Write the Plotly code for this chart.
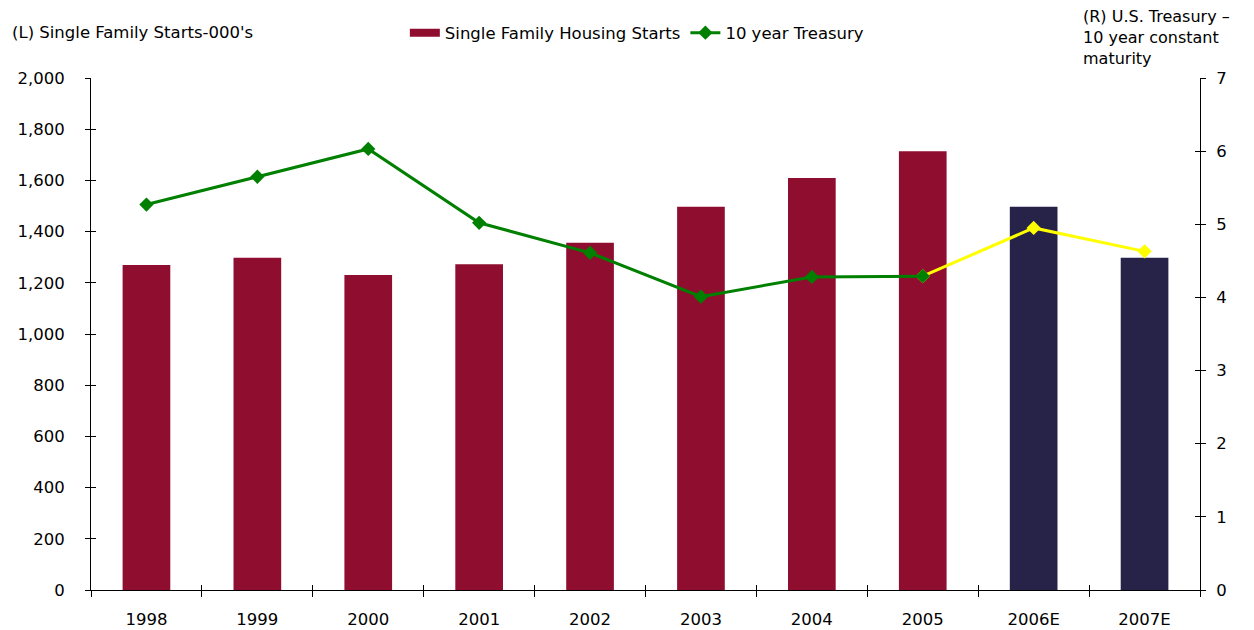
import plotly.graph_objects as go

years = ["1998", "1999", "2000", "2001", "2002", "2003", "2004", "2005", "2006E", "2007E"]
starts = [1270, 1298, 1230, 1272, 1356, 1497, 1609, 1714, 1497, 1298]
bar_colors = ["#8F0E30"] * 8 + ["#272248"] * 2
treasury_actual_years = years[:8]
treasury_actual = [5.27, 5.65, 6.03, 5.02, 4.61, 4.01, 4.28, 4.29]
treasury_est_years = years[7:]
treasury_est = [4.29, 4.95, 4.63]

font = "DejaVu Sans, Verdana, sans-serif"
fs = 16.5

fig = go.Figure()
fig.add_trace(go.Bar(
    x=years, y=starts, name="Single Family Housing Starts", showlegend=False,
    marker=dict(color=bar_colors, line=dict(width=0)), width=0.43,
    yaxis="y",
))
# legend-only entry to get the wide rectangular swatch
fig.add_trace(go.Scatter(
    x=[None], y=[None], mode="lines", name="Single Family Housing Starts",
    line=dict(color="#8F0E30", width=8), yaxis="y",
))
fig.add_trace(go.Scatter(
    x=treasury_est_years, y=treasury_est, mode="lines+markers", showlegend=False,
    line=dict(color="#FFFF00", width=3), marker=dict(symbol="diamond", size=11, color="#FFFF00"),
    yaxis="y2",
))
fig.add_trace(go.Scatter(
    x=treasury_actual_years, y=treasury_actual, mode="lines+markers", name="10 year Treasury",
    line=dict(color="#008000", width=3), marker=dict(symbol="diamond", size=11, color="#008000"),
    yaxis="y2",
))
# empty helper traces so the inner-tick overlay axes are drawn (ticks cross the axis lines)
fig.add_trace(go.Scatter(x=years, y=[None] * len(years), xaxis="x2", yaxis="y3",
                         showlegend=False, hoverinfo="skip", mode="lines"))
fig.add_trace(go.Scatter(x=years, y=[None] * len(years), xaxis="x2", yaxis="y4",
                         showlegend=False, hoverinfo="skip", mode="lines"))

common_inner = dict(ticks="inside", ticklen=5, tickcolor="black", showticklabels=False,
                    showline=False, showgrid=False, zeroline=False)

fig.update_layout(
    width=1254, height=630,
    margin=dict(l=83, r=62, t=70, b=48, autoexpand=False),
    paper_bgcolor="white", plot_bgcolor="white",
    font=dict(family=font, size=fs, color="black"),
    xaxis=dict(
        type="category", categoryarray=years, range=[-0.5, 9.5],
        showline=True, linecolor="black", linewidth=1,
        ticks="outside", ticklen=6, tickcolor="black", tickson="boundaries",
        showgrid=False, tickfont=dict(size=fs), zeroline=False,
        ticklabelstandoff=14,
    ),
    xaxis2=dict(type="category", categoryarray=years, range=[-0.5, 9.5], overlaying="x",
                anchor="y", side="bottom", tickson="boundaries", **common_inner),
    yaxis=dict(
        range=[0, 2000], dtick=200, tickformat=",", showline=True, linecolor="black",
        linewidth=1, ticks="outside", ticklen=5, tickcolor="black", showgrid=False,
        zeroline=False, tickfont=dict(size=fs), ticklabelstandoff=17,
    ),
    yaxis2=dict(
        range=[0, 7], dtick=1, overlaying="y", side="right", showline=True,
        linecolor="black", linewidth=1, ticks="outside", ticklen=5, tickcolor="black",
        showgrid=False, zeroline=False, tickfont=dict(size=fs), ticklabelstandoff=7,
    ),
    yaxis3=dict(range=[0, 2000], dtick=200, overlaying="y", side="left", anchor="x",
                **common_inner),
    yaxis4=dict(range=[0, 7], dtick=1, overlaying="y", side="right", anchor="x",
                **common_inner),
    legend=dict(
        orientation="h", x=0.283, y=1.088, xanchor="left", yanchor="middle",
        font=dict(size=fs), bgcolor="rgba(0,0,0,0)", traceorder="normal",
        itemwidth=30,
    ),
    annotations=[
        dict(text="(L) Single Family Starts-000's", xref="paper", yref="paper",
             x=-0.073, y=1.088, xanchor="left", yanchor="middle", showarrow=False,
             font=dict(size=fs)),
        dict(text="(R) U.S. Treasury –<br>10 year constant<br>maturity", xref="paper",
             yref="paper", x=0.8935, y=1.079, xanchor="left", yanchor="middle",
             showarrow=False, align="left", font=dict(size=16), borderpad=0),
    ],
)

fig.write_html("out.html")
